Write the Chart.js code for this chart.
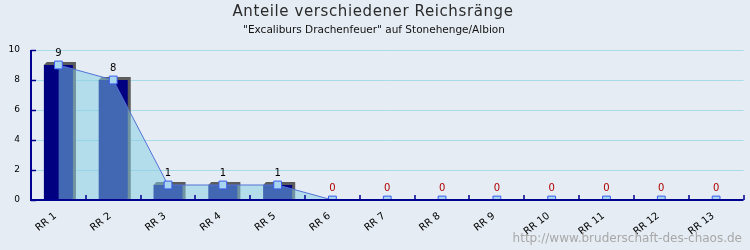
<!DOCTYPE html>
<html>
<head>
<meta charset="utf-8">
<script src="https://cdn.jsdelivr.net/npm/chart.js@4/dist/chart.umd.min.js"></script>
<style>
  html, body { margin: 0; padding: 0; background: #e5ecf3; }
  #wrap { width: 750px; height: 250px; }
</style>
</head>
<body>
<div id="wrap"><canvas id="rangChart" width="750" height="250"></canvas></div>
<script>
const raenge = ['RR 1', 'RR 2', 'RR 3', 'RR 4', 'RR 5', 'RR 6', 'RR 7', 'RR 8', 'RR 9', 'RR 10', 'RR 11', 'RR 12', 'RR 13'];
const anteile = [9, 8, 1, 1, 1, 0, 0, 0, 0, 0, 0, 0, 0];
const yTicks = [0, 2, 4, 6, 8, 10];

const titel = 'Anteile verschiedener Reichsränge';
const untertitel = '"Excaliburs Drachenfeuer" auf Stonehenge/Albion';
const quelle = 'http://www.bruderschaft-des-chaos.de';

const FONT = '"DejaVu Sans", Verdana, sans-serif';
const AXIS = '#000090';

// gray shadow behind the bars (3d look)
const barShadow = {
    id: 'barShadow',
    beforeDatasetsDraw(chart) {
        const c = chart.ctx;
        const meta = chart.getDatasetMeta(0);
        c.save();
        c.fillStyle = '#5c5c5c';
        meta.data.forEach((bar, i) => {
            if (!anteile[i]) return;
            const { x, y, base, width } = bar.getProps(['x', 'y', 'base', 'width'], true);
            const l = x - width / 2, r = x + width / 2;
            c.beginPath();
            c.moveTo(l, y);
            c.lineTo(l + 3, y - 3);
            c.lineTo(r + 3, y - 3);
            c.lineTo(r + 3, base);
            c.lineTo(r, base);
            c.closePath();
            c.fill();
        });
        c.restore();
    }
};

const deko = {
    id: 'deko',
    beforeDraw(chart) {
        const c = chart.ctx;
        c.save();
        c.fillStyle = '#e5ecf3';
        c.fillRect(0, 0, chart.width, chart.height);
        c.restore();
    },
    afterDatasetsDraw(chart) {
        const c = chart.ctx;
        const xs = chart.scales.x, ys = chart.scales.y;
        const area = chart.chartArea;
        c.save();
        // axes
        c.strokeStyle = AXIS;
        c.lineWidth = 2;
        c.beginPath();
        c.moveTo(area.left, area.top);
        c.lineTo(area.left, area.bottom);
        c.lineTo(area.right, area.bottom);
        c.stroke();
        c.lineWidth = 1.5;
        c.beginPath();
        yTicks.forEach(v => {
            const py = Math.round(ys.getPixelForValue(v)) + 0.5;
            c.moveTo(area.left, py);
            c.lineTo(area.left + 5, py);
        });
        const step = (area.right - area.left) / raenge.length;
        for (let i = 1; i <= raenge.length; i++) {
            const px = Math.round(xs.getPixelForValue(i - 1) + step / 2);
            c.moveTo(px, area.bottom);
            c.lineTo(px, area.bottom - 5);
        }
        c.stroke();

        // value labels
        c.font = '10px ' + FONT;
        c.textAlign = 'center';
        c.textBaseline = 'bottom';
        const pts = chart.getDatasetMeta(1).data;
        pts.forEach((p, i) => {
            c.fillStyle = anteile[i] ? '#000000' : '#b00000';
            c.fillText(String(anteile[i]), p.x, p.y - 7);
        });
        c.restore();
    },
    afterDraw(chart) {
        const c = chart.ctx;
        c.save();
        c.fillStyle = '#2a2a2a';
        c.textAlign = 'center';
        c.textBaseline = 'middle';
        c.font = '15px ' + FONT;
        c.letterSpacing = '0.6px';
        c.fillText(titel, 373, 12);
        c.letterSpacing = '0px';
        c.fillStyle = '#111111';
        c.font = '10.5px ' + FONT;
        c.fillText(untertitel, 374, 30);
        c.fillStyle = '#a8a8a8';
        c.textAlign = 'right';
        c.font = '12px ' + FONT;
        c.fillText(quelle, 742, 239);
        c.restore();
    }
};

new Chart(document.getElementById('rangChart'), {
    data: {
        labels: raenge,
        datasets: [{
            type: 'bar',
            label: 'Anteil',
            data: anteile,
            backgroundColor: '#000080',
            borderWidth: 0,
            categoryPercentage: 1,
            barPercentage: 0.53,
            order: 2
        }, {
            type: 'line',
            label: 'Verlauf',
            data: anteile,
            borderColor: '#5272d6',
            borderWidth: 1,
            backgroundColor: 'rgba(132,205,230,0.5)',
            fill: 'origin',
            tension: 0,
            pointStyle: 'rect',
            pointRadius: 5.5,
            pointBackgroundColor: '#a9d6ef',
            pointBorderColor: '#3a5cf0',
            pointBorderWidth: 1,
            order: 1
        }]
    },
    options: {
        responsive: false,
        animation: false,
        events: [],
        layout: { padding: { top: 50, left: 0, right: 4, bottom: 0 } },
        plugins: {
            legend: { display: false },
            tooltip: { enabled: false },
            title: { display: false }
        },
        scales: {
            x: {
                offset: true,
                grid: { display: false },
                border: { display: false },
                ticks: {
                    color: '#000',
                    font: { size: 10, family: FONT },
                    minRotation: 38,
                    maxRotation: 38,
                    padding: 2,
                    labelOffset: -3
                },
                afterFit: (scale) => { scale.height = 50; }
            },
            y: {
                min: 0,
                max: 10,
                grid: { color: '#a8dce8', drawTicks: false },
                border: { display: false },
                ticks: {
                    stepSize: 2,
                    color: '#000',
                    font: { size: 9, family: FONT },
                    padding: 11
                },
                afterFit: (scale) => { scale.width = 31; }
            }
        }
    },
    plugins: [barShadow, deko]
});
</script>
</body>
</html>
